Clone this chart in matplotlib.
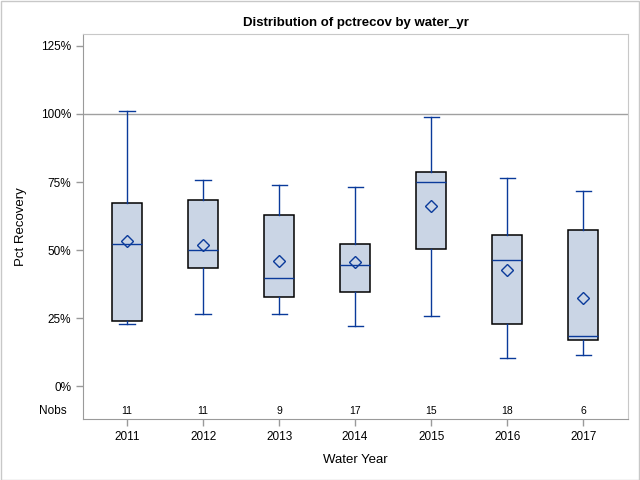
import matplotlib
matplotlib.use("Agg")
import matplotlib.pyplot as plt
from matplotlib.ticker import PercentFormatter, FixedLocator
from matplotlib.patches import Rectangle

plt.rcParams["font.family"] = ["Liberation Sans", "DejaVu Sans"]

# Box statistics per water year (fractions of recovery)
years    = ["2011", "2012", "2013", "2014", "2015", "2016", "2017"]
whislo   = [0.227, 0.264, 0.264, 0.219, 0.256, 0.103, 0.113]
q1       = [0.238, 0.433, 0.326, 0.344, 0.503, 0.227, 0.169]
median   = [0.521, 0.499, 0.396, 0.444, 0.749, 0.462, 0.183]
mean     = [0.532, 0.517, 0.458, 0.456, 0.661, 0.425, 0.322]
q3       = [0.672, 0.683, 0.628, 0.521, 0.786, 0.554, 0.572]
whishi   = [1.012, 0.756, 0.738, 0.731, 0.988, 0.763, 0.717]
nobs     = [11, 11, 9, 17, 15, 18, 6]

BOX_FILL = "#CAD5E5"
LINE_COL = "#0A3A9A"
AXIS_COL = "#9a9a9a"

stats = []
for i in range(len(years)):
    stats.append({
        "label": years[i], "whislo": whislo[i], "q1": q1[i], "med": median[i],
        "mean": mean[i], "q3": q3[i], "whishi": whishi[i], "fliers": [],
    })

fig = plt.figure(figsize=(6.4, 4.8), dpi=100)
ax = fig.add_axes([83 / 640, 1 - 419 / 480, 545 / 640, 385 / 480])

# reference line at 100%
ax.axhline(1.0, color="#a0a0a0", linewidth=1, zorder=1)

ax.bxp(stats, positions=range(len(years)), widths=0.4, capwidths=0.2,
       showmeans=True, patch_artist=True,
       boxprops=dict(facecolor=BOX_FILL, edgecolor="black", linewidth=1.1),
       whiskerprops=dict(color=LINE_COL, linewidth=1.0),
       capprops=dict(color=LINE_COL, linewidth=1.0),
       medianprops=dict(color=LINE_COL, linewidth=1.0),
       meanprops=dict(marker="D", markerfacecolor="none", markeredgecolor=LINE_COL,
                      markersize=6.5, markeredgewidth=1.0),
       zorder=2)

# Nobs row inside plot
for i, n in enumerate(nobs):
    ax.text(i, -0.092, str(n), ha="center", va="center", fontsize=7.5)
ax.text(-0.03, -0.092, "Nobs", ha="right", va="center", fontsize=8.5,
        transform=ax.get_yaxis_transform())

ax.set_xlim(-0.58, 6.59)
ax.set_ylim(-0.121, 1.294)
ax.yaxis.set_major_locator(FixedLocator([0, 0.25, 0.5, 0.75, 1.0, 1.25]))
ax.yaxis.set_major_formatter(PercentFormatter(1.0, decimals=0))
ax.set_xticks(range(len(years)))
ax.set_xticklabels(years)
ax.tick_params(axis="both", colors=AXIS_COL, labelcolor="black", labelsize=8.5,
               length=5, width=1)

for side in ["left", "bottom"]:
    ax.spines[side].set_color(AXIS_COL)
for side in ["top", "right"]:
    ax.spines[side].set_color("#c8c8c8")

ax.set_title("Distribution of pctrecov by water_yr", fontsize=9.5, fontweight="bold", pad=6)
ax.set_xlabel("Water Year", fontsize=9.5, labelpad=8)
ax.set_ylabel("Pct Recovery", fontsize=9.5, labelpad=10)

# outer border of the image
fig.patches.append(Rectangle((0.001, 0.001), 0.997, 0.997, transform=fig.transFigure,
                             fill=False, edgecolor="#c8c8c8", linewidth=1))

fig.savefig("out.png", dpi=100)
